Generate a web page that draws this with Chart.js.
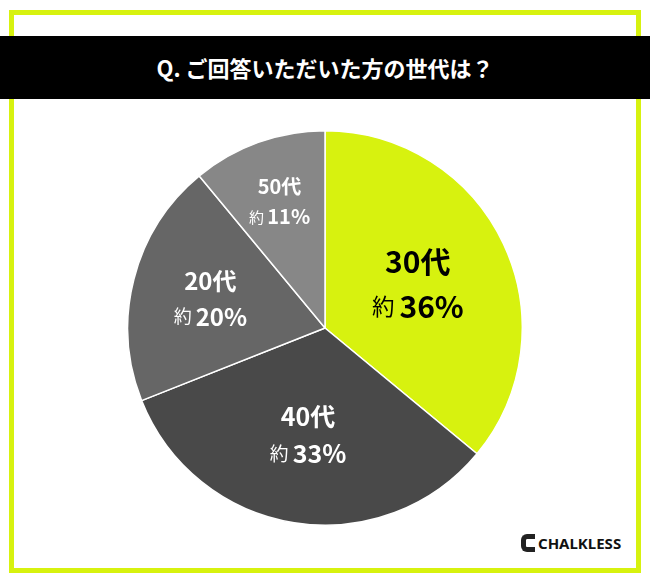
<!DOCTYPE html>
<html><head><meta charset="utf-8">
<script src="https://cdn.jsdelivr.net/npm/chart.js@4"></script>
<style>
body{margin:0;width:650px;height:585px;background:#fff;position:relative;overflow:hidden;font-family:"Noto Sans CJK JP",sans-serif}
#frame{position:absolute;left:9px;top:10px;width:622px;height:553px;border:5px solid #d7f20f}
#bar{position:absolute;left:0;top:36px;width:650px;height:63px;background:#000;color:#fff;font-weight:bold;font-size:22px;line-height:63px;text-align:center}
#c{position:absolute;left:125px;top:128px}
#logo{position:absolute;left:521px;top:533px;font:bold 15px "Noto Sans",sans-serif;color:#111;display:flex;align-items:center;gap:3px}
#logo i{display:inline-block;width:14px;height:18px;border:5px solid #222;border-right:none;border-radius:6px 0 0 6px;box-sizing:border-box}
</style></head><body>
<div id="frame"></div>
<div id="bar">Q. ご回答いただいた方の世代は？</div>
<canvas id="c" width="400" height="400"></canvas>
<div id="logo"><i></i>CHALKLESS</div>
<script>
const labels=["30代","40代","20代","50代"];
const values=[36,33,20,11];
const colors=["#d7f20f","#494949","#666666","#878787"];
const textColors=["#000","#fff","#fff","#fff"];
const sizes=[30,25,24,20];
const radii=[0.52,0.55,0.6,0.68];
const lbl={id:"lbl",afterDatasetsDraw(ch){
 const ctx=ch.ctx;ch.getDatasetMeta(0).data.forEach((a,i)=>{
  const m=(a.startAngle+a.endAngle)/2,r=a.outerRadius*radii[i];
  const x=a.x+Math.cos(m)*r,y=a.y+Math.sin(m)*r,s=sizes[i];
  ctx.save();ctx.fillStyle=textColors[i];ctx.textAlign="center";ctx.textBaseline="middle";
  ctx.font=`bold ${s}px "Noto Sans CJK JP"`;ctx.fillText(labels[i],x,y-s*0.75);
  const p=values[i]+"%";ctx.font=`bold ${s}px "Noto Sans CJK JP"`;const w2=ctx.measureText(p).width;
  ctx.font=`${s*0.75}px "Noto Sans CJK JP"`;const w1=ctx.measureText("約 ").width;
  const x0=x-(w1+w2)/2;ctx.textAlign="left";ctx.fillText("約 ",x0,y+s*0.75);
  ctx.font=`bold ${s}px "Noto Sans CJK JP"`;ctx.fillText(p,x0+w1,y+s*0.75);ctx.restore();});}};
new Chart(document.getElementById("c"),{type:"pie",data:{labels,datasets:[{data:values,backgroundColor:colors,borderColor:"#fff",borderWidth:1.5}]},
options:{responsive:false,animation:false,layout:{padding:2},plugins:{legend:{display:false},tooltip:{enabled:false}}},plugins:[lbl]});
</script></body></html>
